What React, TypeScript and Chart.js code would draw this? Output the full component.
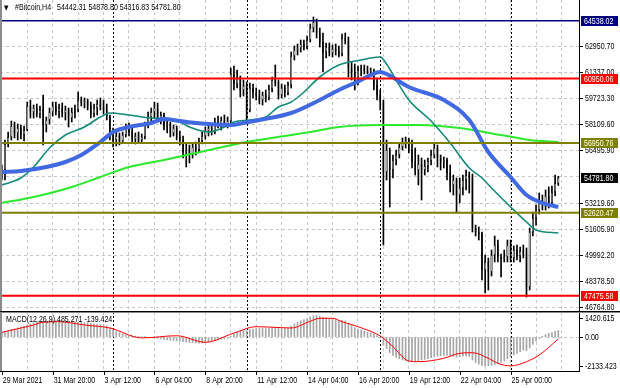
import React, { useEffect, useRef } from 'react';
import { Chart, registerables } from 'chart.js';

Chart.register(...registerables);

// ---------- data ----------
const symbolName = '#Bitcoin,H4';

const barOpen = [
  54963, 55274, 56887, 57321, 58004, 57569, 57880, 57445, 57756, 59245,
  58872, 59121, 58748, 58997, 58066, 58376, 58872, 59245, 58872, 59121,
  58810, 58997, 58500, 58872, 58997, 59617, 59431, 59555, 59245, 58748,
  59121, 59369, 59183, 58997, 58562, 57445, 57135, 57383, 57073, 57445,
  57880, 57631, 57197, 57383, 57135, 57321, 58066, 58562, 58872, 59121,
  58500, 58686, 58004, 58128, 57569, 57880, 57321, 57135, 56390, 56515,
  56204, 56701, 56515, 57073, 57383, 57693, 57880, 57631, 58252, 58066,
  58376, 58128, 58314, 61230, 60610, 60982, 60238, 60486, 58997, 60362,
  60051, 59865, 59617, 59927, 59741, 60300, 60858, 60672, 59927, 60362,
  60051, 60548, 62347, 62720, 62844, 63092, 62906, 63340, 64085, 64457,
  63774, 63216, 62595, 62906, 62533, 62782, 62657, 62471, 63464, 63278,
  61603, 61354, 60858, 61479, 61603, 61416, 61354, 61479, 60548, 59927,
  59493, 55149, 56515, 55274, 55894, 56204, 56701, 57011, 57135, 56515,
  55770, 55274, 55646, 55274, 55522, 55832, 56204, 56639, 56018, 55770,
  55894, 55087, 54343, 54653, 53722, 54157, 54653, 54963, 54777, 51675,
  51426, 51302, 49069, 49565, 48945, 49999, 50620, 49875, 49751, 49875,
  50620, 49813, 50310, 49937, 50247, 50123, 48014, 51426, 52295, 52792,
  53412, 53102, 53660, 53226, 53908, 54442.31,
];
const barHigh = [
  55584, 57135, 57631, 58314, 58252, 58128, 58066, 58004, 59493, 59617,
  59307, 59369, 59245, 59927, 58562, 59121, 59493, 59493, 59369, 59431,
  59245, 59121, 59121, 59307, 60113, 59803, 59741, 59679, 59493, 59369,
  59617, 59741, 59617, 59369, 58686, 57880, 57631, 57569, 57631, 58128,
  58190, 57880, 57569, 57631, 57507, 58252, 58872, 59121, 59493, 59431,
  58872, 58810, 58376, 58252, 58066, 58004, 57693, 57383, 56887, 56825,
  56949, 57011, 57259, 57631, 57942, 58128, 58190, 58500, 58624, 58562,
  58686, 58562, 61603, 61727, 61479, 61106, 60858, 60734, 60672, 60610,
  60362, 60238, 60113, 60238, 60548, 61044, 61789, 60858, 60610, 60548,
  60734, 62595, 62968, 63092, 63340, 63340, 63588, 64333, 64767, 64643,
  64085, 63774, 63154, 63154, 63030, 63092, 62968, 63712, 63774, 63526,
  61975, 61851, 61727, 61789, 61789, 61727, 61603, 61541, 60982, 60238,
  59617, 57135, 56639, 56204, 56515, 56949, 57259, 57321, 57259, 57135,
  56639, 56204, 56018, 55894, 56018, 56515, 56949, 56825, 56204, 56080,
  56018, 55584, 54963, 54777, 54777, 54963, 55274, 55149, 55025, 51856,
  51737, 51426, 49999, 49813, 50310, 51178, 50930, 50061, 50310, 50930,
  50930, 50558, 50620, 50496, 50620, 50434, 51675, 52667, 53102, 53846,
  53722, 54033, 54219, 54281, 54963, 54878.80,
];
const barLow = [
  54653, 54653, 56701, 57135, 57259, 57135, 57197, 57073, 57700, 58500,
  58500, 58562, 58500, 56825, 57631, 58128, 58624, 58686, 58500, 58562,
  58376, 57942, 58252, 58500, 58872, 59245, 59121, 58997, 58500, 58562,
  58686, 58997, 58748, 58376, 57135, 56701, 56763, 56825, 56949, 57321,
  57383, 56949, 56887, 56949, 57011, 57197, 57880, 58252, 58500, 58252,
  58128, 57756, 57569, 57321, 57383, 57135, 56825, 56018, 55460, 55708,
  56018, 56204, 56390, 56887, 57197, 57383, 57445, 57507, 57880, 57756,
  57942, 57880, 58128, 60238, 60362, 59803, 59865, 58376, 58872, 59741,
  59617, 59369, 59307, 59493, 59617, 60113, 60486, 59679, 59741, 59803,
  59927, 60362, 62099, 62409, 62595, 62720, 62782, 63216, 63836, 63464,
  62906, 61354, 62223, 62347, 62285, 62409, 62285, 62347, 63092, 61044,
  60858, 60238, 60548, 61106, 61230, 61230, 61106, 60238, 59617, 58997,
  50620, 54653, 52978, 54777, 55584, 56018, 56515, 56639, 56328, 55398,
  54963, 54343, 53412, 54963, 55149, 55584, 56018, 55460, 55274, 55398,
  54653, 53908, 53722, 52605, 53226, 53722, 54033, 53846, 51426, 51178,
  50930, 48448, 47641, 47828, 48696, 49565, 49565, 48634, 49565, 49565,
  49565, 49565, 49689, 49565, 49813, 47393, 47828, 51178, 51856, 52543,
  52792, 52792, 52916, 53039, 53660, 54316.83,
];
const barClose = [
  55274, 56887, 57321, 58004, 57569, 57880, 57445, 57756, 59245, 58872,
  59121, 58748, 58997, 58066, 58376, 58872, 59245, 58872, 59121, 58810,
  58997, 58500, 58872, 58997, 59617, 59431, 59555, 59245, 58748, 59121,
  59369, 59183, 58997, 58562, 57445, 57135, 57383, 57073, 57445, 57880,
  57631, 57197, 57383, 57135, 57321, 58066, 58562, 58872, 59121, 58500,
  58686, 58004, 58128, 57569, 57880, 57321, 57135, 56390, 56515, 56204,
  56701, 56515, 57073, 57383, 57693, 57880, 57631, 58252, 58066, 58376,
  58128, 58314, 61230, 60610, 60982, 60238, 60486, 58997, 60362, 60051,
  59865, 59617, 59927, 59741, 60300, 60858, 60672, 59927, 60362, 60051,
  60548, 62347, 62720, 62844, 63092, 62906, 63340, 64085, 64457, 63774,
  63216, 62595, 62906, 62533, 62782, 62657, 62471, 63464, 63278, 61603,
  61354, 60858, 61479, 61603, 61416, 61354, 61479, 60548, 59927, 59493,
  55149, 56515, 55274, 55894, 56204, 56701, 57011, 57135, 56515, 55770,
  55274, 55646, 55274, 55522, 55832, 56204, 56639, 56018, 55770, 55894,
  55087, 54343, 54653, 53722, 54157, 54653, 54963, 54777, 51675, 51426,
  51302, 49069, 49565, 48945, 49999, 50620, 49875, 49751, 49875, 50620,
  49813, 50310, 49937, 50247, 50123, 48014, 51426, 52295, 52792, 53412,
  53102, 53660, 53226, 53908, 54442.31, 54781.80,
];

// moving averages, sampled at bar indices
const maBlueIdx = [0, 6, 14, 20, 25, 31, 35, 40, 47, 51, 56, 61, 65, 72, 76, 81, 91, 100, 106, 113, 116, 119, 121, 128, 139, 147, 153, 160, 165, 170, 175];
const maBlue = [55149, 55211, 55460, 55770, 56204, 57011, 57631, 57942, 58190, 58438, 58314, 58190, 58128, 58066, 58190, 58376, 58810, 59617, 60238, 60858, 61168, 61354, 61230, 60424, 59617, 58376, 56390, 54839, 53722, 53226, 52978];
const maTealIdx = [0, 3, 6, 10, 15, 20, 26, 31, 34, 40, 47, 53, 56, 59, 65, 70, 73, 78, 83, 87, 91, 94, 100, 106, 113, 116, 119, 121, 124, 128, 135, 141, 147, 151, 154, 160, 165, 168, 175];
const maTeal = [54343, 54529, 54777, 55460, 56639, 57445, 57942, 58562, 58810, 58686, 58500, 58438, 58252, 57942, 57631, 57942, 58252, 58376, 58562, 59183, 59493, 59927, 61044, 61789, 62099, 62223, 62285, 61851, 60858, 59617, 58314, 56949, 55398, 54777, 54157, 52978, 52047, 51551, 51364];
const maGreenIdx = [0, 10, 21, 31, 40, 51, 61, 77, 91, 97, 106, 119, 131, 144, 157, 166, 175];
const maGreen = [53226, 53598, 54157, 54839, 55460, 55894, 56328, 57011, 57445, 57631, 57942, 58066, 58066, 57880, 57445, 57135, 57011];

// MACD(12,26,9)
const macdMain = [
  330, 400, 480, 560, 620, 680, 740, 800, 900, 980,
  1050, 1100, 1150, 1180, 1200, 1220, 1240, 1230, 1220, 1200,
  1180, 1160, 1140, 1120, 1120, 1100, 1080, 1060, 1020, 980,
  950, 920, 880, 830, 700, 560, 420, 320, 220, 160,
  120, 100, 80, 60, 40, 20, -10, -40, -70, -100,
  -130, -170, -200, -230, -260, -280, -300, -330, -370, -400,
  -420, -440, -450, -430, -400, -360, -320, -260, -200, -150,
  -110, -80, 80, 250, 380, 460, 520, 480, 560, 600,
  640, 650, 640, 630, 650, 700, 720, 680, 660, 640,
  650, 820, 980, 1100, 1220, 1300, 1380, 1480, 1580, 1600,
  1560, 1480, 1420, 1380, 1350, 1300, 1250, 1250, 1200, 1000,
  850, 700, 600, 520, 450, 340, 300, 220, 100, -50,
  -600, -850, -1150, -1350, -1500, -1600, -1700, -1750, -1800, -1820,
  -1800, -1750, -1700, -1650, -1600, -1520, -1450, -1400, -1380, -1350,
  -1350, -1380, -1420, -1480, -1450, -1420, -1400, -1420, -1700, -1900,
  -2000, -2100, -2133, -2120, -2090, -2040, -1950, -1850, -1750, -1600,
  -1450, -1320, -1200, -1080, -950, -1000, -800, -550, -300, -100,
  60, 180, 270, 340, 420, 485.271,
];
const macdSignalIdx = [0, 10, 13, 18, 26, 34, 44, 55, 64, 73, 80, 88, 91, 97, 100, 104, 107, 112, 119, 123, 128, 131, 139, 144, 148, 153, 156, 160, 165, 169, 175];
const macdSignal = [355, 896, 1100, 1140, 896, 674, -60, 100, -385, 300, 770, 700, 674, 1170, 1393, 1393, 1140, 770, 81, -711, -1770, -1822, -1570, -1200, -1155, -1570, -1941, -2133, -1822, -1326, -139.424];

// horizontal levels and axis labels
const levelValues = [64538.02, 60950.06, 56950.76, 52620.47, 47475.58];
const priceTickValues = [46764.80, 48378.50, 49992.20, 51605.90, 53219.60, 56495.90, 58109.60, 59723.30, 61337.00, 62950.70];
const priceGridHidden = [54857.50, 64564.40];
const macdTickValues = [1420.615, 0, -2133.423];
const macdTickLabels = ['1420.615', '0.00', '-2133.423'];
const timeLabelIdx = [0, 16, 32, 48, 64, 80, 96, 112, 128, 144, 160];
const timeLabels = ['29 Mar 2021', '31 Mar 20:00', '3 Apr 12:00', '6 Apr 04:00', '8 Apr 20:00', '11 Apr 12:00', '14 Apr 04:00', '16 Apr 20:00', '19 Apr 12:00', '22 Apr 04:00', '25 Apr 00:00'];
const weekSeparatorIdx = [35, 77, 119, 160];

// ---------- layout / style ----------
const X_MIN = -0.566;
const X_MAX = 181.51;
const P_MIN = 46524.5;
const P_MAX = 65822;
const M_MIN = -2511;
const M_MAX = 1933;
const LEVEL_COLORS = ['#000080', '#ff0000', '#808000', '#808000', '#ff0000'];
const LEVEL_WIDTHS = [1.5, 2, 2, 2, 2];
const TEXT_FONT = '8.5px "Liberation Sans", Arial, sans-serif';
const SQUEEZE = 0.83;

function drawText(ctx: CanvasRenderingContext2D, text: string, x: number, y: number, color: string, font = TEXT_FONT) {
  ctx.save();
  ctx.font = font;
  ctx.translate(x, y);
  ctx.scale(SQUEEZE, 1);
  ctx.fillStyle = color;
  ctx.textAlign = 'left';
  ctx.textBaseline = 'middle';
  ctx.fillText(text, 0, 0);
  ctx.restore();
}

export default function App() {
  const ref = useRef<HTMLCanvasElement>(null);

  useEffect(() => {
    const canvas = ref.current as HTMLCanvasElement;
    const n = barClose.length;
    const idx = barClose.map((_, i) => i);
    const isUp = (i: number) => barClose[i] >= barOpen[i];

    const gridIdx: number[] = [];
    for (let v = 0; v <= X_MAX; v += 8) gridIdx.push(v);

    const overlay = {
      id: 'mt4overlay',
      beforeDatasetsDraw(chart: any) {
        const ctx = chart.ctx;
        const xs = chart.scales.x;
        const area = chart.chartArea;
        ctx.save();
        ctx.strokeStyle = '#000';
        ctx.lineWidth = 1;
        ctx.setLineDash([2, 2]);
        weekSeparatorIdx.forEach((i) => {
          const px = Math.round(xs.getPixelForValue(i)) + 0.5;
          ctx.beginPath();
          ctx.moveTo(px, area.top);
          ctx.lineTo(px, area.bottom);
          ctx.stroke();
        });
        ctx.restore();
      },
      afterDraw(chart: any) {
        const ctx = chart.ctx;
        const xs = chart.scales.x;
        const ys = chart.scales.y;
        const ms = chart.scales.y2;
        const area = chart.chartArea;
        ctx.save();
        // left frame
        ctx.fillStyle = '#8c8c8c';
        ctx.fillRect(0, area.top, 2, area.bottom - area.top);
        // pane separator
        ctx.fillStyle = '#000';
        ctx.fillRect(0, Math.round(ys.bottom), 620, 1);
        ctx.fillStyle = '#8a8a8a';
        ctx.fillRect(0, Math.round(ys.bottom) + 1, 620, 1);

        // price labels
        priceTickValues.forEach((v) => {
          const py = ys.getPixelForValue(v);
          ctx.fillStyle = '#000';
          ctx.fillRect(area.right, Math.round(py), 4, 1);
          drawText(ctx, v.toFixed(2), area.right + 6, py + 0.5, '#000');
        });
        // level boxes + current price box
        const boxes = levelValues.map((v, k) => ({ v, bg: LEVEL_COLORS[k] }));
        boxes.push({ v: barClose[n - 1], bg: '#000000' });
        boxes.forEach((b) => {
          const py = ys.getPixelForValue(b.v);
          ctx.fillStyle = b.bg;
          ctx.fillRect(area.right + 2, Math.round(py) - 5, 37, 10);
          drawText(ctx, b.v.toFixed(2), area.right + 5, Math.round(py) + 0.5, '#ffffff');
        });
        // MACD labels
        macdTickValues.forEach((v, k) => {
          const py = ms.getPixelForValue(v);
          ctx.fillStyle = '#000';
          ctx.fillRect(area.right, Math.round(py), 4, 1);
          drawText(ctx, macdTickLabels[k], area.right + 6, py + 0.5, '#000');
        });
        // time labels
        timeLabelIdx.forEach((i, k) => {
          const px = xs.getPixelForValue(i);
          ctx.fillStyle = '#000';
          ctx.fillRect(Math.round(px), area.bottom, 1, 4);
          drawText(ctx, timeLabels[k], px + 1, area.bottom + 9.5, '#000');
        });
        // header
        drawText(ctx, '\u25BC', 4, 8, '#000', '7px "DejaVu Sans", sans-serif');
        drawText(ctx, symbolName, 15, 8, '#000');
        const last = [barOpen[n - 1], barHigh[n - 1], barLow[n - 1], barClose[n - 1]].map((v) => v.toFixed(2)).join(' ');
        drawText(ctx, last, 57, 8, '#000');
        // MACD caption
        const cap = 'MACD(12,26,9) ' + macdMain[macdMain.length - 1].toFixed(3) + ' ' + macdSignal[macdSignal.length - 1].toFixed(3);
        drawText(ctx, cap, 6, Math.round(ys.bottom) + 8.5, '#000');
        ctx.restore();
      },
    };

    const levelDatasets = levelValues.map((v, k) => ({
      type: 'line',
      data: [{ x: X_MIN - 1, y: v }, { x: X_MAX + 1, y: v }],
      borderColor: LEVEL_COLORS[k],
      borderWidth: LEVEL_WIDTHS[k],
      pointRadius: 0,
      yAxisID: 'y',
      order: 1,
    }));

    const lineDs = (ix: number[], vals: number[], color: string, width: number, axis: string, order: number) => ({
      type: 'line',
      data: ix.map((x, k) => ({ x, y: vals[k] })),
      borderColor: color,
      borderWidth: width,
      pointRadius: 0,
      cubicInterpolationMode: 'monotone',
      yAxisID: axis,
      order,
    });

    const gridCommon = { color: '#c8c8c8', lineWidth: 1, drawTicks: false, offset: false };
    const borderCommon = { display: true, color: '#000000', width: 1, dash: [3, 3] };

    const chart = new Chart(canvas, {
      type: 'line',
      data: {
        datasets: [
          ...levelDatasets,
          lineDs(maGreenIdx, maGreen, '#2ee82e', 2, 'y', 4),
          lineDs(maTealIdx, maTeal, '#138a7c', 1.6, 'y', 3),
          lineDs(maBlueIdx, maBlue, '#4169e1', 4, 'y', 2),
          {
            type: 'bar',
            data: idx.map((i) => ({ x: i, y: [barOpen[i], barClose[i]] })),
            backgroundColor: idx.map((i) => (isUp(i) ? '#ffffff' : '#000000')),
            borderColor: '#000000',
            borderWidth: 1,
            borderSkipped: false,
            barThickness: 1,
            maxBarThickness: 3,
            minBarLength: 1,
            grouped: false,
            yAxisID: 'y',
            order: 10,
          },
          {
            type: 'bar',
            data: idx.map((i) => ({ x: i, y: [barLow[i], barHigh[i]] })),
            backgroundColor: '#000000',
            borderWidth: 0,
            barThickness: 1,
            maxBarThickness: 1,
            grouped: false,
            yAxisID: 'y',
            order: 11,
          },
          {
            type: 'bar',
            data: macdMain.map((v, i) => ({ x: i, y: v })),
            backgroundColor: '#a6a6a6',
            borderWidth: 0,
            barThickness: 1,
            maxBarThickness: 2.2,
            grouped: false,
            yAxisID: 'y2',
            order: 12,
          },
          lineDs(macdSignalIdx, macdSignal, '#ff0000', 1, 'y2', 5),
        ] as any,
      },
      options: {
        responsive: false,
        maintainAspectRatio: false,
        animation: false,
        events: [],
        layout: { padding: 0 },
        plugins: { legend: { display: false }, tooltip: { enabled: false } },
        scales: {
          x: {
            type: 'linear',
            position: 'bottom',
            min: X_MIN,
            max: X_MAX,
            offset: false,
            afterBuildTicks: (s: any) => { s.ticks = gridIdx.map((v) => ({ value: v })); },
            afterFit: (s: any) => { s.height = 17; },
            ticks: { display: false },
            grid: gridCommon,
            border: borderCommon,
          },
          y: {
            type: 'linear',
            position: 'right',
            stack: 'panes',
            stackWeight: 311,
            min: P_MIN,
            max: P_MAX,
            afterBuildTicks: (s: any) => { s.ticks = [...priceTickValues, ...priceGridHidden].map((v) => ({ value: v })); },
            afterFit: (s: any) => { s.width = 41; },
            ticks: { display: false },
            grid: gridCommon,
            border: borderCommon,
          },
          y2: {
            type: 'linear',
            position: 'right',
            stack: 'panes',
            stackWeight: 60,
            min: M_MIN,
            max: M_MAX,
            afterBuildTicks: (s: any) => { s.ticks = [{ value: 0 }]; },
            afterFit: (s: any) => { s.width = 41; },
            ticks: { display: false },
            grid: gridCommon,
            border: borderCommon,
          },
        },
      } as any,
      plugins: [overlay],
    });

    return () => chart.destroy();
  }, []);

  return (
    <div style={{ position: 'fixed', left: 0, top: 0, width: 620, height: 388, background: '#ffffff' }}>
      <canvas ref={ref} width={620} height={388} style={{ display: 'block' }} />
    </div>
  );
}
